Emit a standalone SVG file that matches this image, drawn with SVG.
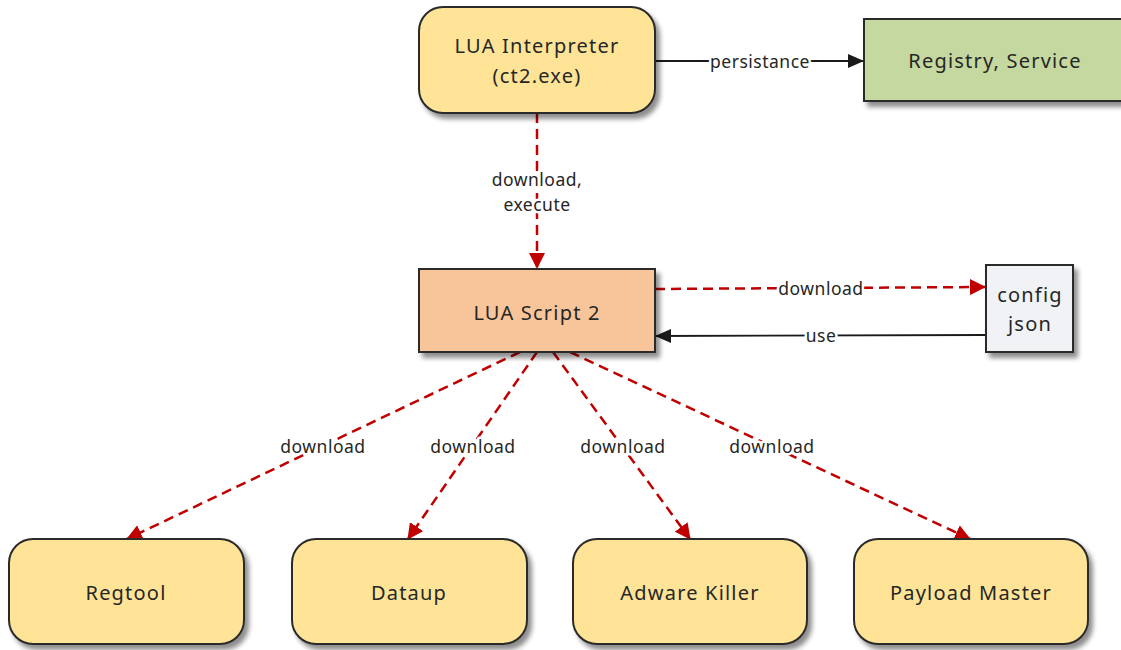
<svg xmlns="http://www.w3.org/2000/svg" width="1121" height="650" viewBox="0 0 1121 650">
<defs>
<filter id="sh" x="-10%" y="-10%" width="130%" height="140%">
<feGaussianBlur in="SourceAlpha" stdDeviation="2.5"/>
<feOffset dx="4" dy="5" result="b"/>
<feComponentTransfer><feFuncA type="linear" slope="0.45"/></feComponentTransfer>
<feMerge><feMergeNode/><feMergeNode in="SourceGraphic"/></feMerge>
</filter>
<marker id="ar" markerWidth="16" markerHeight="16" refX="15" refY="8" orient="auto" markerUnits="userSpaceOnUse">
<path d="M0,0 L16,8 L0,16 Z" fill="#c00000"/>
</marker>
<marker id="ab" markerWidth="16" markerHeight="16" refX="15" refY="8" orient="auto" markerUnits="userSpaceOnUse">
<path d="M0,1 L16,8 L0,15 Z" fill="#1a1a1a"/>
</marker>
</defs>
<style>
.n{stroke:#2a2a2a;stroke-width:2}
.y{fill:#ffe497}
.t{font-family:"Noto Sans",sans-serif;font-size:20px;letter-spacing:1.2px;fill:#262626;text-anchor:middle}
.l{font-family:"Noto Sans",sans-serif;font-size:17.5px;letter-spacing:0.5px;fill:#262626;text-anchor:middle;stroke:#fff;stroke-width:5px;paint-order:stroke;stroke-linejoin:round}
.r{fill:none;stroke:#c00000;stroke-width:2.5;stroke-dasharray:10,6}
.k{fill:none;stroke:#1a1a1a;stroke-width:1.8}
</style>
<g id="connectors">
<path class="k" d="M655,61 L863,61" marker-end="url(#ab)"/>
<path class="r" d="M537,113 L537,268" marker-end="url(#ar)"/>
<path class="r" d="M655,289 L985,287" marker-end="url(#ar)"/>
<path class="k" d="M986,335 L656,336" marker-end="url(#ab)"/>
<path class="r" d="M520,352 L127,539" marker-end="url(#ar)"/>
<path class="r" d="M537,352 L408,539" marker-end="url(#ar)"/>
<path class="r" d="M553,352 L690,539" marker-end="url(#ar)"/>
<path class="r" d="M570,352 L970,539" marker-end="url(#ar)"/>
<text class="l" x="760" y="68" letter-spacing="1">persistance</text>
<text class="l" x="537" y="186">download,</text>
<text class="l" x="537" y="211">execute</text>
<text class="l" x="821" y="295">download</text>
<text class="l" x="821" y="342">use</text>
<text class="l" x="323" y="453">download</text>
<text class="l" x="473" y="453">download</text>
<text class="l" x="623" y="453">download</text>
<text class="l" x="772" y="453">download</text>
</g>
<g id="lua-interpreter">
<rect class="n y" x="419" y="7" width="236" height="106" rx="24" filter="url(#sh)"/>
<text class="t" x="537" y="53">LUA Interpreter</text>
<text class="t" x="537" y="83">(ct2.exe)</text>
</g>
<g id="registry-service">
<rect class="n" x="864" y="19" width="262" height="82" fill="#c5d8a0" filter="url(#sh)"/>
<text class="t" x="995" y="68">Registry, Service</text>
</g>
<g id="lua-script-2">
<rect class="n" x="419" y="269" width="236" height="83" fill="#f8c59a" filter="url(#sh)"/>
<text class="t" x="537" y="320">LUA Script 2</text>
</g>
<g id="config-json">
<rect class="n" x="986" y="265" width="87" height="87" fill="#f0f2f5" filter="url(#sh)"/>
<text class="t" x="1030" y="302">config</text>
<text class="t" x="1030" y="331">json</text>
</g>
<g id="regtool">
<rect class="n y" x="9" y="539" width="235" height="105" rx="24" filter="url(#sh)"/>
<text class="t" x="126" y="600">Regtool</text>
</g>
<g id="dataup">
<rect class="n y" x="292" y="539" width="235" height="105" rx="24" filter="url(#sh)"/>
<text class="t" x="409" y="600">Dataup</text>
</g>
<g id="adware-killer">
<rect class="n y" x="573" y="539" width="234" height="105" rx="24" filter="url(#sh)"/>
<text class="t" x="690" y="600">Adware Killer</text>
</g>
<g id="payload-master">
<rect class="n y" x="854" y="539" width="234" height="105" rx="24" filter="url(#sh)"/>
<text class="t" x="971" y="600">Payload Master</text>
</g>
</svg>
